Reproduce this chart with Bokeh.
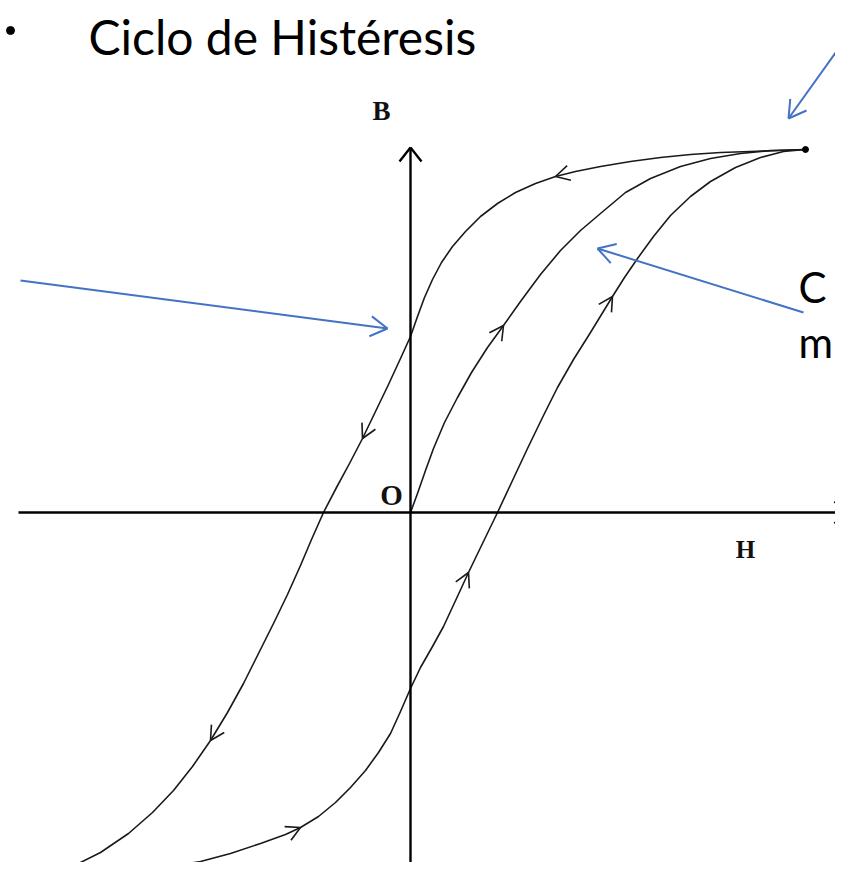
import numpy as np
from bokeh.plotting import figure
from bokeh.models import Range1d
from bokeh.core.properties import value
from bokeh.embed import file_html
from bokeh.resources import INLINE

# ---------------- data (H, B in arbitrary units, origin at O) ----------------
title_text = "Ciclo de Histéresis"

# descending branch: from +saturation to -saturation
upper_H = [3.95, 3.70, 3.40, 3.10, 2.80, 2.50, 2.20, 1.90, 1.65, 1.45, 1.25, 1.05, 0.87,
           0.70, 0.55, 0.42, 0.31, 0.22, 0.14, 0.07, 0.00, -0.10, -0.22, -0.35, -0.48,
           -0.61, -0.74, -0.87, -0.99, -1.10, -1.23, -1.37, -1.52, -1.67, -1.83, -2.00,
           -2.18, -2.37, -2.58, -2.82, -3.10, -3.38, -3.65, -3.92]
upper_B = [3.63, 3.62, 3.61, 3.60, 3.58, 3.55, 3.51, 3.46, 3.41, 3.36, 3.29, 3.20, 3.09,
           2.96, 2.81, 2.66, 2.50, 2.33, 2.15, 1.96, 1.76, 1.54, 1.28, 1.01, 0.74,
           0.49, 0.25, 0.00, -0.27, -0.53, -0.82, -1.11, -1.41, -1.71, -2.00, -2.28,
           -2.54, -2.78, -3.00, -3.21, -3.40, -3.54, -3.62, -3.65]

# ascending branch: from -saturation to +saturation
lower_H = [-3.92, -3.60, -3.30, -3.00, -2.70, -2.40, -2.10, -1.80, -1.50, -1.25, -1.10,
           -0.92, -0.75, -0.60, -0.45, -0.32, -0.20, -0.10, 0.00, 0.10, 0.22, 0.33, 0.46,
           0.58, 0.72, 0.87, 1.02, 1.17, 1.32, 1.47, 1.63, 1.80, 2.02, 2.14, 2.27, 2.43,
           2.60, 2.80, 3.00, 3.25, 3.50, 3.73, 3.95]
lower_B = [-3.65, -3.65, -3.64, -3.61, -3.58, -3.54, -3.49, -3.41, -3.31, -3.22, -3.15,
           -3.04, -2.90, -2.75, -2.58, -2.40, -2.21, -1.99, -1.76, -1.55, -1.34, -1.14,
           -0.86, -0.60, -0.31, 0.00, 0.32, 0.64, 0.95, 1.25, 1.53, 1.80, 2.16, 2.35,
           2.54, 2.76, 2.97, 3.16, 3.31, 3.45, 3.55, 3.61, 3.63]

# initial magnetisation curve: from O to +saturation
initial_H = [0.00, 0.07, 0.15, 0.23, 0.34, 0.47, 0.61, 0.77, 0.93, 1.10, 1.30, 1.50,
             1.70, 1.90, 2.15, 2.40, 2.70, 3.00, 3.30, 3.60, 3.95]
initial_B = [0.00, 0.19, 0.42, 0.64, 0.90, 1.15, 1.40, 1.65, 1.87, 2.11, 2.38, 2.62,
             2.82, 2.99, 3.20, 3.34, 3.46, 3.54, 3.59, 3.62, 3.63]

saturation_H = [3.95]
saturation_B = [3.63]

# direction marks on curves (tip positions)
marks_curve = ["upper", "upper", "upper", "lower", "lower", "lower", "initial"]
marks_H = [1.45, -0.48, -2.00, -1.10, 0.58, 2.02, 0.93]
marks_B = [3.36, 0.74, -2.28, -3.15, -0.60, 2.16, 1.87]

# axes
haxis_H = [-3.92, 4.38]
haxis_B = [0.0, 0.0]
baxis_H = [0.0, 0.0]
baxis_B = [-3.61, 3.65]

# labels
label_text = ["B", "O", "H"]
label_H = [-0.29, -0.19, 3.35]
label_B = [4.02, 0.18, -0.37]
label_size = ["27px", "29px", "25px"]

# blue callout arrows (start -> tip)
callout_H0 = [-3.90, 4.41, 3.93]
callout_B0 = [2.32, 4.82, 2.00]
callout_H1 = [-0.23, 3.78, 1.87]
callout_B1 = [1.84, 3.94, 2.64]

side_text = ["C", "m"]
side_H = [3.88, 3.88]
side_B = [2.26, 1.71]

bullet_H = [-4.00]
bullet_B = [4.82]

# ---------------- helpers ----------------
def head(tx, ty, dx, dy, length, half):
    n = np.hypot(dx, dy)
    dx, dy = dx / n, dy / n
    px, py = -dy, dx
    bx, by = tx - length * dx, ty - length * dy
    return ([bx + half * px, bx - half * px], [by + half * py, by - half * py])

def curve_dir(cx, cy, tx, ty):
    best, bd = 0, 1e9
    for i in range(len(cx) - 1):
        ax, ay, bx, by = cx[i], cy[i], cx[i + 1], cy[i + 1]
        vx, vy = bx - ax, by - ay
        t = max(0, min(1, ((tx - ax) * vx + (ty - ay) * vy) / (vx * vx + vy * vy)))
        d = np.hypot(ax + t * vx - tx, ay + t * vy - ty)
        if d < bd:
            bd, best = d, i
    i0, i1 = max(best - 1, 0), min(best + 2, len(cx) - 1)
    return cx[i1] - cx[i0], cy[i1] - cy[i0]

curves = {"upper": (upper_H, upper_B), "lower": (lower_H, lower_B),
          "initial": (initial_H, initial_B)}

# ---------------- figure ----------------
p = figure(width=835, height=862, output_backend="svg", toolbar_location=None,
           x_range=Range1d(-4.10, 4.25), y_range=Range1d(-3.50, 5.12),
           min_border=0, x_axis_location=None, y_axis_location=None)
p.grid.visible = False
p.outline_line_color = None
p.background_fill_color = "white"
p.border_fill_color = "white"

curve_color = "#1a1a1a"
for name, (cx, cy) in curves.items():
    p.line(cx, cy, line_color=curve_color, line_width=1.6, line_join="round")

# direction marks
x0s, y0s, x1s, y1s = [], [], [], []
for c, tx, ty in zip(marks_curve, marks_H, marks_B):
    cx, cy = curves[c]
    dx, dy = curve_dir(cx, cy, tx, ty)
    hx, hy = head(tx, ty, dx, dy, 0.14, 0.075)
    for ax, ay in zip(hx, hy):
        x0s.append(ax); y0s.append(ay); x1s.append(tx); y1s.append(ty)
p.segment(x0s, y0s, x1s, y1s, line_color=curve_color, line_width=1.6)

p.scatter(saturation_H, saturation_B, size=6, color="black")

# axes
p.line(haxis_H, haxis_B, line_color="black", line_width=2.4)
p.line(baxis_H, baxis_B, line_color="black", line_width=2.4)
ax0, ay0, ax1, ay1 = [], [], [], []
for (xs, ys) in [(haxis_H, haxis_B), (baxis_H, baxis_B)]:
    hx, hy = head(xs[1], ys[1], xs[1] - xs[0], ys[1] - ys[0], 0.14, 0.11)
    for a, b in zip(hx, hy):
        ax0.append(a); ay0.append(b); ax1.append(xs[1]); ay1.append(ys[1])
p.segment(ax0, ay0, ax1, ay1, line_color="black", line_width=2.4)

for t, x, y, s in zip(label_text, label_H, label_B, label_size):
    p.text([x], [y], text=[t], text_font=value("Liberation Serif"),
           text_font_style="bold", text_font_size=s, text_align="center",
           text_baseline="middle", text_color="#111111")

# blue callouts
blue = "#4472C4"
p.segment(callout_H0, callout_B0, callout_H1, callout_B1, line_color=blue, line_width=2)
bx0, by0, bx1, by1 = [], [], [], []
for x0, y0, x1, y1 in zip(callout_H0, callout_B0, callout_H1, callout_B1):
    hx, hy = head(x1, y1, x1 - x0, y1 - y0, 0.17, 0.10)
    for a, b in zip(hx, hy):
        bx0.append(a); by0.append(b); bx1.append(x1); by1.append(y1)
p.segment(bx0, by0, bx1, by1, line_color=blue, line_width=2)

# title and slide texts
p.text([-3.22], [4.76], text=[title_text], text_font=value("Lato"),
       text_font_size="48px", text_align="left", text_baseline="middle",
       text_color="black")
p.text(side_H, side_B, text=side_text, text_font=value("Lato"),
       text_font_size="42px", text_align="left", text_baseline="middle",
       text_color="black")
p.scatter(bullet_H, bullet_B, size=8, color="black")

open("out.html", "w").write(file_html(p, INLINE))
